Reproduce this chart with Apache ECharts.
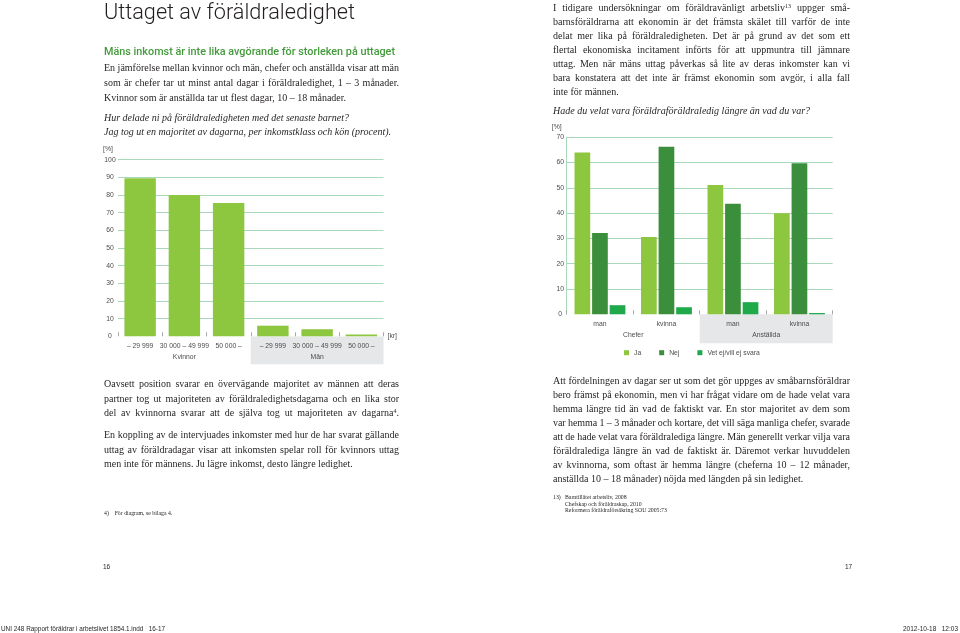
<!DOCTYPE html>
<html><head><meta charset="utf-8">
<script src="https://cdn.jsdelivr.net/npm/echarts@6/dist/echarts.min.js"></script>
<style>
html,body{margin:0;padding:0;background:#fff;}
#page{position:relative;width:960px;height:633px;overflow:hidden;background:#fff;}
#chart{position:absolute;left:0;top:0;width:960px;height:633px;}
.ln{position:absolute;white-space:pre;color:#231f20;transform-origin:0 50%;}
.serif{font-family:"Liberation Serif","Times New Roman",serif;font-size:10px;line-height:14px;}
.it{font-style:italic;}
.title{font-family:Roboto,"Liberation Sans",sans-serif;font-weight:300;font-size:22px;line-height:24px;color:#231f20;}
.head{font-family:Roboto,"Liberation Sans",sans-serif;font-weight:500;font-size:11.5px;line-height:14px;color:#449a3c;}
.fn{font-family:"Liberation Serif",serif;font-size:5.8px;line-height:7px;}
.small{font-family:"Liberation Sans",sans-serif;font-size:6.5px;line-height:8px;}
sup{font-size:0.6em;line-height:0;vertical-align:0.5em;}
</style></head>
<body><div id="page"><div id="chart"></div></div>
<script>
// ---------- chart data ----------
const incomeCats = ['– 29 999', '30 000 – 49 999', '50 000 –', '– 29 999', '30 000 – 49 999', '50 000 –'];
const genderCats = ['Kvinnor', 'Män'];
const majorityShare = [89.5, 80, 75.5, 6, 4, 1];
const leftTicks = { min: 0, max: 100, interval: 10 };

const personCats = ['man', 'kvinna', 'man', 'kvinna'];
const roleCats = ['Chefer', 'Anställda'];
const seriesNames = ['Ja', 'Nej', 'Vet ej/vill ej svara'];
const jaValues = [64, 30.6, 51.1, 40];
const nejValues = [32.2, 66.3, 43.7, 59.7];
const vetValues = [3.6, 2.8, 4.8, 0.5];
const rightTicks = { min: 0, max: 70, interval: 10 };

// ---------- styles ----------
const FONT = '"Liberation Sans", Arial, sans-serif';
const LBL = '#4d4d4d';
const GRID = '#a8d9bb';
const BAND = '#e6e7e8';
const C_JA = '#8dc63f', C_NEJ = '#3b8e3b', C_VET = '#1fa94b';
const lblStyle = { fontFamily: FONT, fontSize: 6.8, color: LBL };

function groupAxis(gridIndex, data, margin) {
  return {
    type: 'category', gridIndex: gridIndex, data: data, position: 'bottom', z: 0,
    axisLine: { show: false }, axisTick: { show: false },
    splitArea: { show: true, interval: 0, areaStyle: { color: ['rgba(255,255,255,0)', BAND] } },
    axisLabel: Object.assign({ interval: 0, inside: true, margin: margin }, lblStyle)
  };
}

const chart = echarts.init(document.getElementById('chart'), null, { renderer: 'canvas' });
chart.setOption({
  animation: false,
  backgroundColor: 'transparent',
  grid: [
    { left: 118, top: 159.7, width: 265.5, height: 176.6 },
    { left: 566.7, top: 137.3, width: 266, height: 177 },
    { left: 118, top: 336.5, width: 265.5, height: 27.8 },
    { left: 566.7, top: 314.3, width: 266, height: 29 }
  ],
  legend: {
    data: seriesNames, left: 624, top: 349.2, padding: 0, itemWidth: 5, itemHeight: 5, itemGap: 18,
    icon: 'rect', selectedMode: false,
    textStyle: Object.assign({ padding: 0 }, lblStyle)
  },
  xAxis: [
    { type: 'category', gridIndex: 0, data: incomeCats, position: 'bottom', z: 5,
      axisLine: { show: false },
      axisTick: { show: true, inside: true, length: 4, lineStyle: { color: '#a6a6a6' } },
      axisLabel: Object.assign({ interval: 0, margin: 6 }, lblStyle),
      name: '[kr]', nameLocation: 'end', nameGap: 4,
      nameTextStyle: Object.assign({ verticalAlign: 'middle', padding: [0, 0, 6, 0] }, lblStyle) },
    { type: 'category', gridIndex: 1, data: personCats, position: 'bottom', z: 5,
      axisLine: { show: false },
      axisTick: { show: true, inside: true, length: 4, lineStyle: { color: '#a6a6a6' } },
      axisLabel: Object.assign({ interval: 0, margin: 6 }, lblStyle) },
    groupAxis(2, genderCats, 3.8),
    groupAxis(3, roleCats, 5)
  ],
  yAxis: [
    { type: 'value', gridIndex: 0, min: leftTicks.min, max: leftTicks.max, interval: leftTicks.interval,
      axisLine: { show: false }, axisTick: { show: false },
      axisLabel: Object.assign({ margin: 8, align: 'center' }, lblStyle),
      splitLine: { show: true, showMinLine: false, lineStyle: { color: GRID, width: 1 } },
      name: '[%]', nameLocation: 'end', nameGap: 7,
      nameTextStyle: Object.assign({ align: 'center', padding: [0, 20, 0, 0] }, lblStyle) },
    { type: 'value', gridIndex: 1, min: rightTicks.min, max: rightTicks.max, interval: rightTicks.interval,
      axisLine: { show: true, lineStyle: { color: GRID, width: 1 } }, axisTick: { show: false },
      axisLabel: Object.assign({ margin: 6.5, align: 'center' }, lblStyle),
      splitLine: { show: true, showMinLine: false, lineStyle: { color: GRID, width: 1 } },
      name: '[%]', nameLocation: 'end', nameGap: 6.6,
      nameTextStyle: Object.assign({ align: 'center', padding: [0, 20, 0, 0] }, lblStyle) },
    { type: 'value', gridIndex: 2, min: 0, max: 1, show: false },
    { type: 'value', gridIndex: 3, min: 0, max: 1, show: false }
  ],
  series: [
    { type: 'bar', xAxisIndex: 0, yAxisIndex: 0, data: majorityShare,
      itemStyle: { color: C_JA }, barCategoryGap: '29%' },
    { type: 'bar', name: seriesNames[0], xAxisIndex: 1, yAxisIndex: 1, data: jaValues,
      itemStyle: { color: C_JA }, barGap: '12%', barCategoryGap: '23.5%' },
    { type: 'bar', name: seriesNames[1], xAxisIndex: 1, yAxisIndex: 1, data: nejValues,
      itemStyle: { color: C_NEJ }, barGap: '12%', barCategoryGap: '23.5%' },
    { type: 'bar', name: seriesNames[2], xAxisIndex: 1, yAxisIndex: 1, data: vetValues,
      itemStyle: { color: C_VET }, barGap: '12%', barCategoryGap: '23.5%' }
  ]
});

// ---------- page text ----------
// [class, x, centerY, html, mode ('j' justify | 'f' fit | 'n' natural), width]
const L = 104, LW = 295, R = 553, RW = 297;
const textLines = [
  ['title', L, 12, 'Uttaget av föräldraledighet', 'f', 251],
  ['head', L, 50.5, 'Mäns inkomst är inte lika avgörande för storleken på uttaget', 'f', 291],
  ['serif', L, 68, 'En jämförelse mellan kvinnor och män, chefer och anställda visar att män', 'j', LW],
  ['serif', L, 83, 'som är chefer tar ut minst antal dagar i föräldraledighet, 1 – 3 månader.', 'j', LW],
  ['serif', L, 97.5, 'Kvinnor som är anställda tar ut flest dagar, 10 – 18 månader.', 'n'],
  ['serif it', L, 117.5, 'Hur delade ni på föräldraledigheten med det senaste barnet?', 'n'],
  ['serif it', L, 132, 'Jag tog ut en majoritet av dagarna, per inkomstklass och kön (procent).', 'n'],
  ['serif', L, 384, 'Oavsett position svarar en övervägande majoritet av männen att deras', 'j', LW],
  ['serif', L, 398.5, 'partner tog ut majoriteten av föräldraledighetsdagarna och en lika stor', 'j', LW],
  ['serif', L, 413, 'del av kvinnorna svarar att de själva tog ut majoriteten av dagarna<sup>4</sup>.', 'j', LW],
  ['serif', L, 435, 'En koppling av de intervjuades inkomster med hur de har svarat gällande', 'j', LW],
  ['serif', L, 449.5, 'uttag av föräldradagar visar att inkomsten spelar roll för kvinnors uttag', 'j', LW],
  ['serif', L, 464, 'men inte för männens. Ju lägre inkomst, desto längre ledighet.', 'n'],
  ['fn', L, 513, '4)    För diagram, se bilaga 4.', 'n'],
  ['small', 103, 567, '16', 'n'],
  ['serif', R, 7.5, 'I tidigare undersökningar om föräldravänligt arbetsliv<sup>13</sup> uppger små-', 'j', RW],
  ['serif', R, 21.5, 'barnsföräldrarna att ekonomin är det främsta skälet till varför de inte', 'j', RW],
  ['serif', R, 35.5, 'delat mer lika på föräldraledigheten. Det är på grund av det som ett', 'j', RW],
  ['serif', R, 49.5, 'flertal ekonomiska incitament införts för att uppmuntra till jämnare', 'j', RW],
  ['serif', R, 63.5, 'uttag. Men när mäns uttag påverkas så lite av deras inkomster kan vi', 'j', RW],
  ['serif', R, 77.5, 'bara konstatera att det inte är främst ekonomin som avgör, i alla fall', 'j', RW],
  ['serif', R, 91.5, 'inte för männen.', 'n'],
  ['serif it', R, 110.5, 'Hade du velat vara föräldraföräldraledig längre än vad du var?', 'n'],
  ['serif', R, 380.5, 'Att fördelningen av dagar ser ut som det gör uppges av småbarnsföräldrar', 'j', RW],
  ['serif', R, 394.5, 'bero främst på ekonomin, men vi har frågat vidare om de hade velat vara', 'j', RW],
  ['serif', R, 408.5, 'hemma längre tid än vad de faktiskt var. En stor majoritet av dem som', 'j', RW],
  ['serif', R, 422.5, 'var hemma 1 – 3 månader och kortare, det vill säga manliga chefer, svarade', 'j', RW],
  ['serif', R, 436.5, 'att de hade velat vara föräldralediga längre. Män generellt verkar vilja vara', 'j', RW],
  ['serif', R, 450.5, 'föräldralediga längre än vad de faktiskt är. Däremot verkar huvuddelen', 'j', RW],
  ['serif', R, 464.5, 'av kvinnorna, som oftast är hemma längre (cheferna 10 – 12 månader,', 'j', RW],
  ['serif', R, 478.5, 'anställda 10 – 18 månader) nöjda med längden på sin ledighet.', 'n'],
  ['fn', R, 497.5, '13)', 'n'],
  ['fn', R + 12, 497.5, 'Barntillätet arbetsliv, 2008', 'n'],
  ['fn', R + 12, 504, 'Chefskap och föräldraskap, 2010', 'n'],
  ['fn', R + 12, 510.5, 'Reformera föräldraförsäkring SOU 2005:73', 'n'],
  ['small', 845, 567, '17', 'n'],
  ['small', 1, 628.5, 'UNI 248 Rapport föräldrar i arbetslivet 1854.1.indd   16-17', 'f', 164],
  ['small', 903, 628.5, '2012-10-18   12:03', 'f', 55]
];

const page = document.getElementById('page');
textLines.forEach(([cls, x, yc, html, mode, w]) => {
  const d = document.createElement('div');
  d.className = 'ln ' + cls;
  d.innerHTML = html;
  page.appendChild(d);
  const lh = parseFloat(getComputedStyle(d).lineHeight);
  d.style.left = x + 'px';
  d.style.top = (yc - lh / 2) + 'px';
  const nat = d.getBoundingClientRect().width;
  if (mode === 'j') {
    const txt = d.textContent;
    const spaces = (txt.match(/ /g) || []).length;
    const extra = w - nat;
    if (extra >= 0 && spaces) d.style.wordSpacing = (extra / spaces) + 'px';
    else d.style.letterSpacing = (extra / (txt.length - 1)) + 'px';
  } else if (mode === 'f') {
    d.style.transform = 'scaleX(' + (w / nat) + ')';
  }
});
</script>
</body></html>
